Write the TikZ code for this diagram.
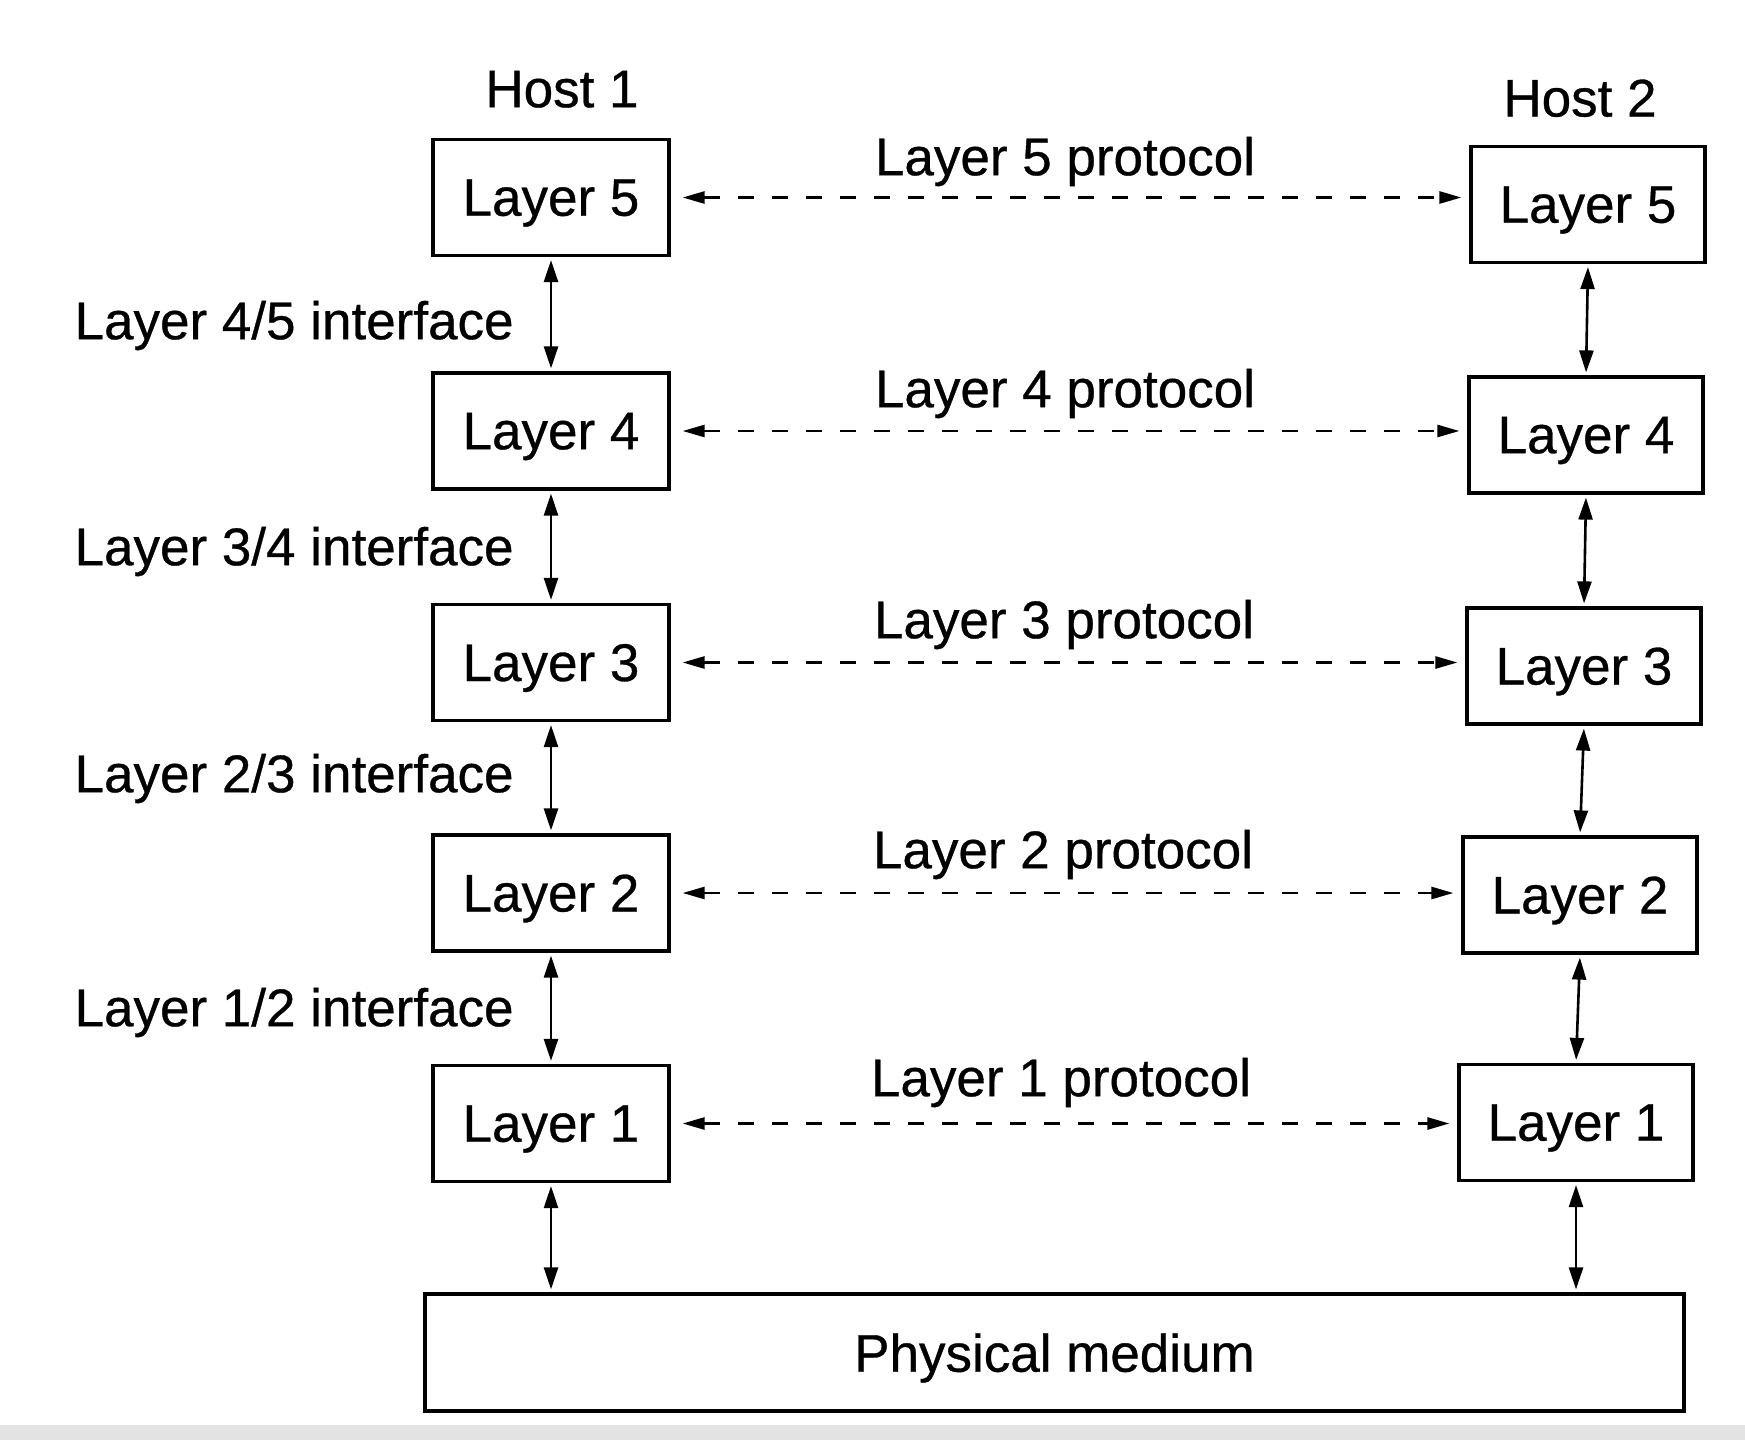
\documentclass[tikz,border=0pt]{standalone}
\usepackage{fontspec}
\setmainfont{Liberation Sans}
\newfontfamily\lblfont{Liberation Sans}[FakeBold=0.6]
\usetikzlibrary{arrows.meta}
\begin{document}
\begin{tikzpicture}[x=0.5pt,y=-0.5pt,
  every node/.style={font=\lblfont\fontsize{26.5}{32}\selectfont, text depth=0pt},
  layerbox/.style={draw, line width=1.6pt, minimum width=118pt, minimum height=58pt, inner sep=0pt},
  rlayerbox/.style={layerbox, minimum width=117pt},
  lbl/.style={inner sep=0pt},
  iface/.style={lbl, anchor=east},
  vconn/.style={line width=1.3pt, {Triangle[length=11pt,width=7pt]}-{Triangle[length=11pt,width=7pt]}, shorten <=1.5pt, shorten >=1.5pt},
  proto/.style={line width=1.3pt, dash pattern=on 8pt off 9pt, {Triangle[length=11pt,width=6pt]}-{Triangle[length=11pt,width=6pt]}, shorten <=6pt, shorten >=4pt}
]
\useasboundingbox (0,0) rectangle (1745,1440);
\fill[white] (0,0) rectangle (1745,1440);
\fill[gray!22] (0,1425) rectangle (1745,1440);

% hosts
\node[lbl] (h1) at (562,89) {Host 1};
\node[lbl] (h2) at (1580,98) {Host 2};

% left stack
\node[layerbox] (l5) at (551,197.5) {Layer 5};
\node[layerbox] (l4) at (551,431) {Layer 4};
\node[layerbox] (l3) at (551,662.5) {Layer 3};
\node[layerbox] (l2) at (551,893) {Layer 2};
\node[layerbox] (l1) at (551,1123.5) {Layer 1};

% right stack
\node[rlayerbox] (r5) at (1588,204.5) {Layer 5};
\node[rlayerbox] (r4) at (1586,435) {Layer 4};
\node[rlayerbox] (r3) at (1584,666) {Layer 3};
\node[rlayerbox] (r2) at (1580,895) {Layer 2};
\node[rlayerbox] (r1) at (1576,1122.5) {Layer 1};

% physical medium
\node[draw, line width=1.6pt, minimum width=629.5pt, minimum height=58.5pt, inner sep=0pt] (phys) at (1054.5,1352.5) {Physical medium};

% interface labels
\node[iface] (i45) at (514,320) {Layer 4/5 interface};
\node[iface] (i34) at (514,546) {Layer 3/4 interface};
\node[iface] (i23) at (514,773) {Layer 2/3 interface};
\node[iface] (i12) at (514,1007) {Layer 1/2 interface};

% protocol labels
\node[lbl] (p5) at (1065,156) {Layer 5 protocol};
\node[lbl] (p4) at (1065,388) {Layer 4 protocol};
\node[lbl] (p3) at (1064,619) {Layer 3 protocol};
\node[lbl] (p2) at (1063,849) {Layer 2 protocol};
\node[lbl] (p1) at (1061,1077) {Layer 1 protocol};

% vertical connectors, left
\draw[vconn] (l5.south) -- (l4.north);
\draw[vconn] (l4.south) -- (l3.north);
\draw[vconn] (l3.south) -- (l2.north);
\draw[vconn] (l2.south) -- (l1.north);
\draw[vconn] (l1.south) -- (l1.south |- phys.north);

% vertical connectors, right
\draw[vconn] (r5.south) -- (r4.north);
\draw[vconn] (r4.south) -- (r3.north);
\draw[vconn] (r3.south) -- (r2.north);
\draw[vconn] (r2.south) -- (r1.north);
\draw[vconn] (r1.south) -- (r1.south |- phys.north);

% protocol connectors
\draw[proto] (l5.east) -- (r5.west |- l5.east);
\draw[proto] (l4.east) -- (r4.west |- l4.east);
\draw[proto] (l3.east) -- (r3.west |- l3.east);
\draw[proto] (l2.east) -- (r2.west |- l2.east);
\draw[proto] (l1.east) -- (r1.west |- l1.east);
\end{tikzpicture}
\end{document}
